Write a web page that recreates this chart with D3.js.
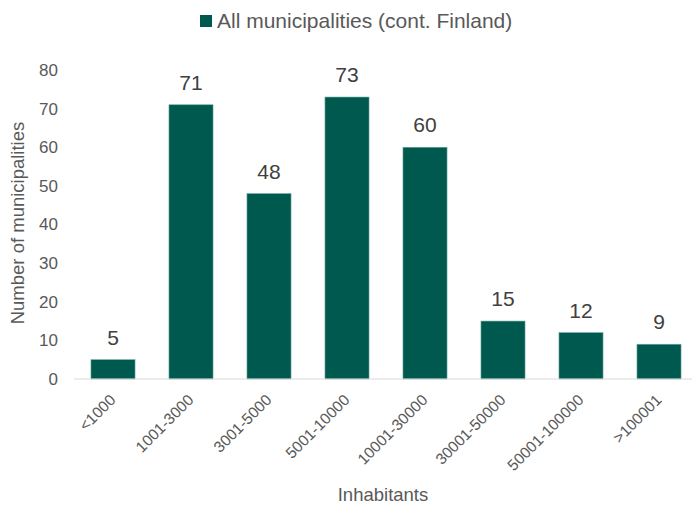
<!DOCTYPE html>
<html>
<head>
<meta charset="utf-8">
<script src="https://cdn.jsdelivr.net/npm/d3@7"></script>
<style>
  html, body { margin: 0; padding: 0; background: #fff; }
  svg { display: block; font-family: "Liberation Sans", Arial, sans-serif; }
</style>
</head>
<body>
<svg id="chart" width="692" height="507"></svg>
<script>
// Municipalities of continental Finland grouped by number of inhabitants
const categories = ["<1000", "1001-3000", "3001-5000", "5001-10000", "10001-30000", "30001-50000", "50001-100000", ">100001"];
const counts = [5, 71, 48, 73, 60, 15, 12, 9];
const yTicks = [0, 10, 20, 30, 40, 50, 60, 70, 80];
const seriesName = "All municipalities (cont. Finland)";
const xTitle = "Inhabitants";
const yTitle = "Number of municipalities";

const barColor = "#00594f";
const textColor = "#595959";

const svg = d3.select("#chart");
const margin = { top: 70, left: 74, bottom: 379 };

const x = d3.scaleBand()
  .domain(categories)
  .range([margin.left, 698])
  .paddingInner(0.435)
  .paddingOuter(0.2175);

const y = d3.scaleLinear()
  .domain([0, 80])
  .range([margin.bottom, margin.top]);

// Bars
svg.append("g").selectAll("rect")
  .data(counts)
  .join("rect")
  .attr("x", (d, i) => x(categories[i]))
  .attr("y", d => y(d))
  .attr("width", x.bandwidth())
  .attr("height", d => y(0) - y(d))
  .attr("fill", barColor)
  .attr("stroke", "#6fa8a1")
  .attr("stroke-width", 0.6);

// Value labels above bars
svg.append("g").selectAll("text")
  .data(counts)
  .join("text")
  .attr("x", (d, i) => x(categories[i]) + x.bandwidth() / 2)
  .attr("y", d => y(d) - 15)
  .attr("text-anchor", "middle")
  .attr("font-size", 21)
  .attr("fill", "#404040")
  .text(d => d);

// Baseline
svg.append("line")
  .attr("x1", margin.left).attr("x2", 692)
  .attr("y1", y(0)).attr("y2", y(0))
  .attr("stroke", "#d9d9d9")
  .attr("stroke-width", 1);

// Y axis (labels only)
const yAxis = d3.axisLeft(y).tickValues(yTicks).tickSize(0).tickPadding(0);
const gy = svg.append("g")
  .attr("transform", `translate(58,0)`)
  .call(yAxis);
gy.select(".domain").remove();
gy.selectAll("text")
  .attr("font-size", 17)
  .attr("fill", textColor)
  .attr("font-family", "Liberation Sans, Arial, sans-serif");

// X axis (rotated labels)
const xAxis = d3.axisBottom(x).tickSize(0).tickPadding(0);
const gx = svg.append("g")
  .attr("transform", `translate(0,${y(0)})`)
  .call(xAxis);
gx.select(".domain").remove();
gx.selectAll("text")
  .attr("font-size", 15.5)
  .attr("fill", textColor)
  .attr("font-family", "Liberation Sans, Arial, sans-serif")
  .attr("text-anchor", "end")
  .attr("dy", null)
  .attr("transform", "translate(3.5,22) rotate(-45)");

// Axis titles
svg.append("text")
  .attr("x", 383)
  .attr("y", 501)
  .attr("text-anchor", "middle")
  .attr("font-size", 18.5)
  .attr("fill", textColor)
  .text(xTitle);

svg.append("text")
  .attr("transform", "translate(24,223) rotate(-90)")
  .attr("text-anchor", "middle")
  .attr("font-size", 18.5)
  .attr("fill", textColor)
  .text(yTitle);

// Legend
const legend = svg.append("g").attr("transform", "translate(200,15)");
legend.append("rect")
  .attr("width", 12).attr("height", 12)
  .attr("fill", barColor);
legend.append("text")
  .attr("x", 17)
  .attr("y", 13)
  .attr("font-size", 21)
  .attr("fill", textColor)
  .text(seriesName);
</script>
</body>
</html>
